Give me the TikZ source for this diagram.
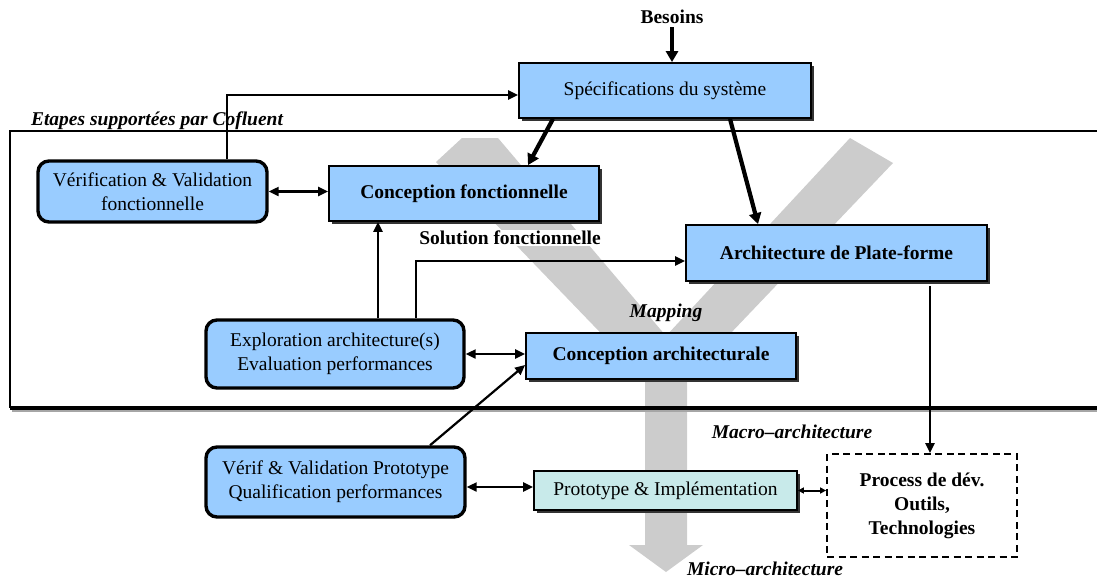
\documentclass[tikz,border=0pt]{standalone}
\usepackage{fontspec}
\setmainfont{Liberation Serif}
\usetikzlibrary{arrows.meta,shadows}

\definecolor{boxblue}{RGB}{153,204,255}
\definecolor{protocyan}{RGB}{200,234,234}
\definecolor{flowgray}{RGB}{204,204,204}

\begin{document}
\begin{tikzpicture}[x=1pt,y=-1pt,
  font=\fontsize{19.5}{24}\selectfont,
  sqbox/.style={draw=black, line width=1.8pt, fill=boxblue, inner sep=2pt, align=center,
    drop shadow={shadow xshift=2.5pt, shadow yshift=-2.5pt, fill=black!80, opacity=1}},
  rbox/.style={draw=black, line width=3.4pt, fill=boxblue, rounded corners=11pt,
    inner sep=2pt, align=center},
  dashbox/.style={draw=black, line width=1.8pt, dash pattern=on 7pt off 4.5pt, fill=white,
    align=center, inner sep=2pt},
  lbl/.style={font=\fontsize{19.5}{24}\selectfont\bfseries\itshape},
  arr/.style={line width=2.2pt, -{Triangle[length=10pt,width=9pt]}},
  dblarr/.style={line width=2.2pt, {Triangle[length=10pt,width=9pt]}-{Triangle[length=10pt,width=9pt]}},
  smalldbl/.style={line width=2pt, {Triangle[length=6pt,width=6pt]}-{Triangle[length=6pt,width=6pt]}},
  bigarr/.style={line width=4.2pt, -{Triangle[length=11pt,width=12pt]}},
]
\useasboundingbox (0,0) rectangle (1097,579);

% grey Y-shaped flow in the background
\fill[flowgray] (436,162) -- (462,138) -- (498,138) -- (666,336) -- (850,138) -- (893,163)
  -- (687,379) -- (687,545) -- (703,545) -- (666,572) -- (629,545) -- (645,545)
  -- (645,379) -- cycle;

% frame of the steps supported by the tool
\draw[line width=1.4pt] (1097,131) -- (10,131) -- (10,408);
\draw[line width=2pt, black!35] (12,411) -- (1097,411);
\draw[line width=3.2pt] (10,408) -- (1097,408);

% labels
\node (besoins) at (672,17) {\bfseries Besoins};
\node[lbl] (etapes) at (157,121) {Etapes supportées par Cofluent};
\node[fill=white, inner sep=1pt] (solution) at (510,238) {\bfseries Solution fonctionnelle};
\node[lbl] (mapping) at (666,313) {Mapping};
\node[lbl] (macro) at (792,432) {Macro–architecture};
\node[lbl] (micro) at (765,569) {Micro–architecture};

% boxes
\node[sqbox, minimum width=292pt, minimum height=55pt] (spec) at (665,90.5) {Spécifications du système};
\node[sqbox, minimum width=270pt, minimum height=55pt] (cf) at (464,193.5) {\bfseries Conception fonctionnelle};
\node[sqbox, minimum width=301pt, minimum height=56pt] (arch) at (836.5,253) {\bfseries Architecture de Plate-forme};
\node[sqbox, minimum width=270pt, minimum height=46pt] (ca) at (661,356) {\bfseries Conception architecturale};
\node[sqbox, fill=protocyan, minimum width=263pt, minimum height=39pt] (proto) at (665.5,490.5) {Prototype \& Implémentation};
\node[dashbox, minimum width=190pt, minimum height=103pt] (proc) at (922,505.5) {\bfseries Process de dév.\\\bfseries Outils,\\\bfseries Technologies};
\node[rbox, minimum width=229pt, minimum height=61pt] (vvf) at (152.5,191.5) {Vérification \& Validation\\fonctionnelle};
\node[rbox, minimum width=258pt, minimum height=68pt] (expl) at (335,354) {Exploration architecture(s)\\Evaluation performances};
\node[rbox, minimum width=259pt, minimum height=70pt] (vp) at (335.5,482) {Vérif \& Validation Prototype\\Qualification performances};

% anchor points for the connectors
\coordinate (vvftop) at ([xshift=74.5pt]vvf.north);
\coordinate (specin) at ([yshift=-4.5pt]spec.west);
\coordinate (e1) at ([xshift=43pt]expl.north);
\coordinate (e2) at ([xshift=81pt]expl.north);
\coordinate (archin) at ([yshift=-8pt]arch.west);
\coordinate (v1) at ([yshift=-5pt]vp.east);
\coordinate (a1) at ([xshift=93.5pt]arch.south);

% connectors
\draw[bigarr] (besoins.south) -- (besoins.south |- spec.north);
\draw[bigarr] ([xshift=-112pt]spec.south) -- ([xshift=64pt]cf.north);
\draw[bigarr] ([xshift=65pt]spec.south) -- ([xshift=-78.5pt]arch.north);
\draw[arr] (vvftop) |- (specin);
\draw[dblarr] (vvf.east) -- (vvf.east -| cf.west);
\draw[arr] (e1) -- (e1 |- cf.south);
\draw[arr] (e2) |- (archin);
\draw[dblarr] (expl.east) -- (expl.east -| ca.west);
\draw[arr] ([xshift=94.5pt]vp.north) -- ([yshift=-9pt]ca.west);
\draw[dblarr] (v1) -- (v1 -| proto.west);
\draw[smalldbl] (proto.east) -- (proto.east -| proc.west);
\draw[arr] ([yshift=-4pt]a1) -- (a1 |- proc.north);
\end{tikzpicture}
\end{document}
